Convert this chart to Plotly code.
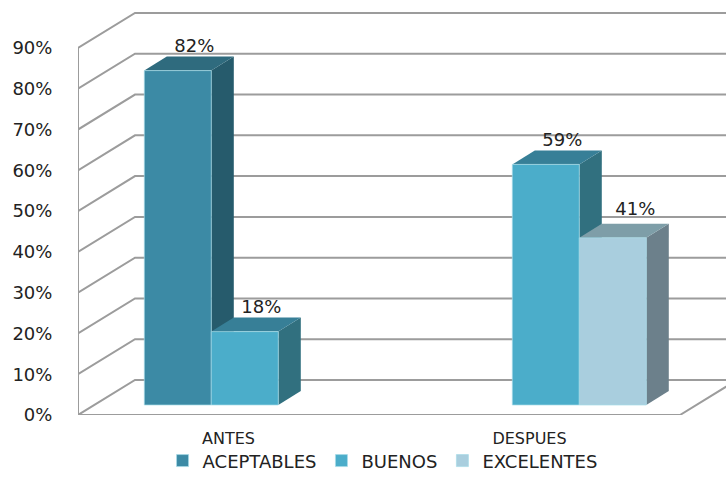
import plotly.graph_objects as go

categories = ["ANTES", "DESPUES"]
series_names = ["ACEPTABLES", "BUENOS", "EXCELENTES"]
aceptables = [82, None]
buenos = [18, 59]
excelentes = [None, 41]
series_values = [aceptables, buenos, excelentes]
y_ticks = [0, 10, 20, 30, 40, 50, 60, 70, 80, 90]
y_tick_labels = ["0%", "10%", "20%", "30%", "40%", "50%", "60%", "70%", "80%", "90%"]

front_colors = ["#3C8AA5", "#4BADCA", "#A9CEDE"]
side_colors = ["#265B6C", "#31707F", "#6C808B"]
top_colors = ["#2F6B7E", "#377F97", "#7E9EA8"]
GRID = "#9C9C9C"
TEXT = "#222222"
FONT = "DejaVu Sans"

# scales of the fake-3D projection (pixels per axis unit)
PX_X = 301.0
PX_Y = 4.078
W, H = 726, 492
ML, MB = 78, 77
x_range = [-0.5, -0.5 + (W - ML) / PX_X]
y_range = [0, (H - MB) / PX_Y]

WALL_DX, WALL_DY = 57 / PX_X, 35 / PX_Y      # floor depth
BAR_DY0 = 10 / PX_Y                           # bar front plane
BAR_DX0 = BAR_DY0 * PX_Y * (57 / 35) / PX_X
BAR_DX, BAR_DY = 22.5 / PX_X, 14 / PX_Y       # bar depth
BAR_W = 67 / PX_X

fig = go.Figure()

# walls and floor
gx, gy = [], []
x_left, x_right = x_range[0], 1.5
for t in y_ticks:
    gx += [x_left, x_left + WALL_DX, x_right + WALL_DX, None]
    gy += [t, t + WALL_DY, t + WALL_DY, None]
gx += [x_left, x_left, None, x_left, x_right, x_right + WALL_DX]
gy += [y_ticks[-1], y_ticks[0], None, y_ticks[0], y_ticks[0], WALL_DY]
fig.add_trace(go.Scatter(x=gx, y=gy, mode="lines", line=dict(color=GRID, width=2),
                         showlegend=False, hoverinfo="skip"))

# side and top faces, painted back to front
lbl_x, lbl_y, lbl_t = [], [], []
for ci in range(len(categories)):
    for si, vals in enumerate(series_values):
        v = vals[ci]
        if v is None:
            continue
        xc = ci + BAR_DX0 + (si - 1) * BAR_W
        xl, xr = xc - BAR_W / 2, xc + BAR_W / 2
        b = BAR_DY0
        top = b + v
        fig.add_trace(go.Scatter(
            x=[xr, xr + BAR_DX, xr + BAR_DX, xr, xr],
            y=[b, b + BAR_DY, top + BAR_DY, top, b],
            mode="lines", fill="toself", fillcolor=side_colors[si],
            line=dict(width=0), showlegend=False, hoverinfo="skip"))
        fig.add_trace(go.Scatter(
            x=[xl, xr, xr + BAR_DX, xl + BAR_DX, xl],
            y=[top, top, top + BAR_DY, top + BAR_DY, top],
            mode="lines", fill="toself", fillcolor=top_colors[si],
            line=dict(width=0), showlegend=False, hoverinfo="skip"))
        nudge_x = 6 / PX_X if si == 2 else 0
        nudge_y = 4 / PX_Y if si == 2 else 0
        lbl_x.append(xc + 0.055 + nudge_x)
        lbl_y.append(top + BAR_DY + nudge_y)
        lbl_t.append(f"{v}%")

# front faces on an overlaid axis pair, so they sit over every side face
for si, vals in enumerate(series_values):
    xs = [ci + BAR_DX0 + (si - 1) * BAR_W for ci in range(len(categories))]
    fig.add_trace(go.Bar(
        x=xs, y=vals, base=BAR_DY0, width=BAR_W, name=series_names[si],
        marker=dict(color=front_colors[si], line=dict(width=0.7, color="#A8DCE8")),
        xaxis="x2", yaxis="y2", hoverinfo="skip"))

fig.add_trace(go.Scatter(
    x=lbl_x, y=lbl_y, text=lbl_t, mode="text", textposition="top center",
    textfont=dict(family=FONT, size=18, color=TEXT),
    xaxis="x2", yaxis="y2", showlegend=False, hoverinfo="skip", cliponaxis=False))

fig.update_layout(
    width=W, height=H, autosize=False,
    margin=dict(l=ML, r=0, t=0, b=MB, pad=0),
    paper_bgcolor="white", plot_bgcolor="white",
    barmode="overlay",
    font=dict(family=FONT, color=TEXT),
    xaxis=dict(range=x_range, tickmode="array", tickvals=[0, 1], ticktext=categories,
               showgrid=False, zeroline=False, showline=False, ticks="outside",
               ticklen=9, tickcolor="rgba(0,0,0,0)",
               tickfont=dict(family=FONT, size=16, color=TEXT)),
    yaxis=dict(range=y_range, tickmode="array", tickvals=y_ticks, ticktext=y_tick_labels,
               showgrid=False, zeroline=False, showline=False, ticks="outside",
               ticklen=21, tickcolor="rgba(0,0,0,0)",
               tickfont=dict(family=FONT, size=18, color=TEXT)),
    xaxis2=dict(range=x_range, overlaying="x", visible=False),
    yaxis2=dict(range=y_range, overlaying="y", visible=False),
    legend=dict(orientation="h", x=0.47, xanchor="center", xref="paper",
                y=-0.066, yanchor="top", bgcolor="rgba(0,0,0,0)",
                font=dict(family=FONT, size=18, color=TEXT),
                itemwidth=30, traceorder="normal"),
)

fig.write_html("out.html", config={"displayModeBar": False},
               post_script="document.body.style.margin='0';")
